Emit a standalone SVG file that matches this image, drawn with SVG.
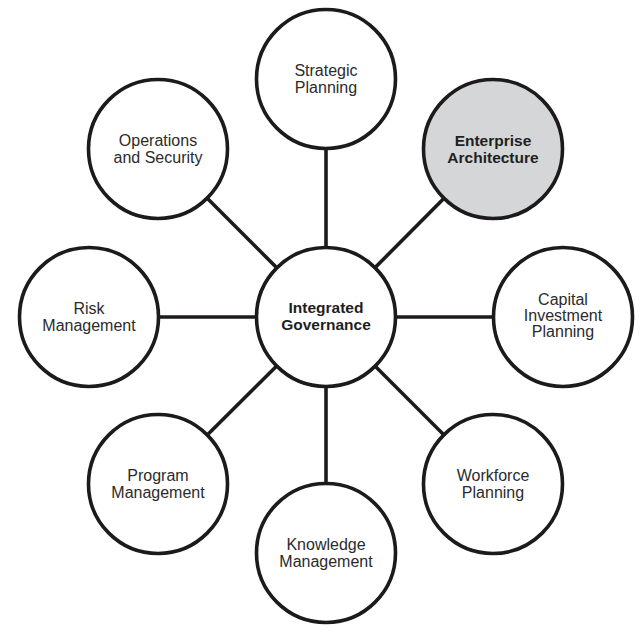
<svg xmlns="http://www.w3.org/2000/svg" width="640" height="632" viewBox="0 0 640 632">
<style>
.bg{fill:#ffffff}
.node{fill:#ffffff;stroke:#1c1a1a;stroke-width:3.6}
.hl{fill:#d5d6d8}
.conn{stroke:#1c1a1a;stroke-width:3.6;fill:none}
.t{font-family:"Liberation Sans",Arial,Helvetica,sans-serif;font-size:16px;fill:#2b2b2b;text-anchor:middle}
.b{font-weight:bold;font-size:15.5px;fill:#1f1f1f}
</style>
<rect class="bg" x="0" y="0" width="640" height="632"/>
<g id="connectors">
<line class="conn" x1="326" y1="317" x2="326" y2="79"/>
<line class="conn" x1="326" y1="317" x2="493" y2="149"/>
<line class="conn" x1="326" y1="317" x2="563" y2="317"/>
<line class="conn" x1="326" y1="317" x2="493" y2="484"/>
<line class="conn" x1="326" y1="317" x2="326" y2="553"/>
<line class="conn" x1="326" y1="317" x2="158" y2="484"/>
<line class="conn" x1="326" y1="317" x2="89" y2="317"/>
<line class="conn" x1="326" y1="317" x2="158" y2="149"/>
</g>
<g id="center">
<circle class="node" cx="326" cy="317" r="69.5"/>
<text class="t b" x="326" y="313">Integrated</text>
<text class="t b" x="326" y="330">Governance</text>
</g>
<g id="strategic">
<circle class="node" cx="326" cy="79" r="69.5"/>
<text class="t" x="326" y="75.5">Strategic</text>
<text class="t" x="326" y="92.5">Planning</text>
</g>
<g id="enterprise">
<circle class="node hl" cx="493" cy="149" r="69.5"/>
<text class="t b" x="493" y="145.5">Enterprise</text>
<text class="t b" x="493" y="162.5">Architecture</text>
</g>
<g id="capital">
<circle class="node" cx="563" cy="317" r="69.5"/>
<text class="t" x="563" y="304.5">Capital</text>
<text class="t" x="563" y="320.5">Investment</text>
<text class="t" x="563" y="336.5">Planning</text>
</g>
<g id="workforce">
<circle class="node" cx="493" cy="484" r="69.5"/>
<text class="t" x="493" y="480.5">Workforce</text>
<text class="t" x="493" y="497.5">Planning</text>
</g>
<g id="knowledge">
<circle class="node" cx="326" cy="553" r="69.5"/>
<text class="t" x="326" y="549.5">Knowledge</text>
<text class="t" x="326" y="566.5">Management</text>
</g>
<g id="program">
<circle class="node" cx="158" cy="484" r="69.5"/>
<text class="t" x="158" y="480.5">Program</text>
<text class="t" x="158" y="497.5">Management</text>
</g>
<g id="risk">
<circle class="node" cx="89" cy="317" r="69.5"/>
<text class="t" x="89" y="313.5">Risk</text>
<text class="t" x="89" y="330.5">Management</text>
</g>
<g id="operations">
<circle class="node" cx="158" cy="149" r="69.5"/>
<text class="t" x="158" y="145.5">Operations</text>
<text class="t" x="158" y="162.5">and Security</text>
</g>
</svg>
